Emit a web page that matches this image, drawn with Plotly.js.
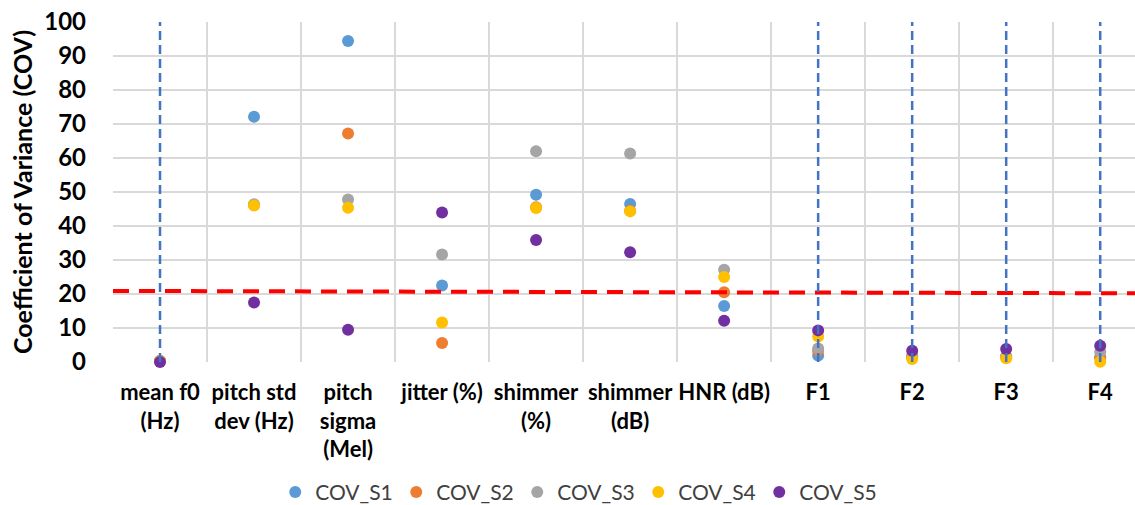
<!DOCTYPE html>
<html>
<head>
<meta charset="utf-8">
<script src="https://cdn.plot.ly/plotly-3.0.1.min.js"></script>
<style>
html,body{margin:0;padding:0;background:#fff;}
#chart{width:1135px;height:505px;}
</style>
</head>
<body>
<div id="chart"></div>
<script>
// Categories (x axis)
const categories = [
  "mean f0<br>(Hz)", "pitch std<br>dev (Hz)", "pitch<br>sigma<br>(Mel)", "jitter (%)",
  "shimmer<br>(%)", "shimmer<br>(dB)", "HNR (dB)", "F1", "F2", "F3", "F4"
];

// Series values
const COV_S1 = [0.3, 72.1, 94.4, 22.5, 49.2, 46.5, 16.5, 1.9, 1.6, 1.5, 1.5];
const COV_S2 = [0.3, 46.2, 67.2, 5.6, 45.5, 44.5, 20.5, 3.3, 1.5, 1.5, 1.2];
const COV_S3 = [0.3, 46.4, 47.8, 31.6, 62.0, 61.3, 27.1, 4.0, 1.8, 1.8, 3.0];
const COV_S4 = [0.2, 46.0, 45.4, 11.6, 45.3, 44.3, 25.0, 7.5, 0.9, 1.1, 0.1];
const COV_S5 = [0.0, 17.5, 9.5, 44.0, 35.9, 32.3, 12.1, 9.3, 3.3, 3.8, 4.8];

const seriesNames = ["COV_S1", "COV_S2", "COV_S3", "COV_S4", "COV_S5"];
const seriesColors = ["#5B9BD5", "#ED7D31", "#A5A5A5", "#FFC000", "#7030A0"];

// Reference (threshold) line values at left and right ends
const refLineY = [20.9, 20.2];
// Categories with vertical blue dashed marker lines
const vlineCats = [0, 7, 8, 9, 10];
const vlineY = [0, 100];

const allSeries = [COV_S1, COV_S2, COV_S3, COV_S4, COV_S5];
const traces = [];

// red dashed trend line (behind markers)
traces.push({
  x: [-0.5, categories.length - 0.5], y: refLineY, xaxis: 'x2', yaxis: 'y',
  mode: 'lines', line: {color: '#FF0000', width: 4, dash: '16px,10px'},
  showlegend: false, hoverinfo: 'skip'
});

function markerTrace(i) {
  return {
    x: categories, y: allSeries[i], name: seriesNames[i], type: 'scatter', mode: 'markers',
    marker: {color: seriesColors[i], size: 12}, cliponaxis: false
  };
}
for (let i = 0; i < 4; i++) traces.push(markerTrace(i));

vlineCats.forEach(c => {
  traces.push({
    x: [c, c], y: vlineY, xaxis: 'x2', yaxis: 'y', mode: 'lines',
    line: {color: '#4472C4', width: 2.5, dash: '9px,5px'},
    showlegend: false, hoverinfo: 'skip'
  });
});
traces.push(markerTrace(4));

const xr = [-0.5, 10.37];
const boldFont = (s) => ({size: s, color: '#000', family: 'Lato, sans-serif', weight: 'bold'});
const layout = {
  width: 1135, height: 505,
  margin: {l: 113, r: 0, t: 22, b: 143, autoexpand: false},
  paper_bgcolor: '#fff', plot_bgcolor: '#fff',
  font: {family: 'Lato, "Open Sans", sans-serif', color: '#000'},
  showlegend: true,
  legend: {
    orientation: 'h', xref: 'container', yref: 'container',
    x: 0.2425, xanchor: 'left', y: 0.025, yanchor: 'middle',
    font: {size: 21, color: '#404040', family: 'Lato, sans-serif'},
    itemwidth: 30, entrywidth: 76, entrywidthmode: 'pixels'
  },
  xaxis: {
    type: 'category', range: xr, tickson: 'boundaries', automargin: false,
    showgrid: true, gridcolor: '#D9D9D9', gridwidth: 1.5,
    zeroline: false, showline: false,
    ticks: '', ticklabelstandoff: 15,
    tickfont: boldFont(22),
    tickangle: 0, fixedrange: true
  },
  xaxis2: {
    overlaying: 'x', range: xr, visible: false, showgrid: false, zeroline: false
  },
  yaxis: {
    range: [0, 100], dtick: 10, tick0: 0, automargin: false,
    showgrid: true, gridcolor: '#D9D9D9', gridwidth: 1.5,
    zeroline: false, showline: false,
    ticks: '', ticklabelstandoff: 26,
    tickfont: boldFont(24),
    title: {text: 'Coefficient of Variance (COV)', standoff: 4, font: boldFont(25)},
    fixedrange: true
  }
};

Plotly.newPlot('chart', traces, layout, {displayModeBar: false, staticPlot: true});
</script>
</body>
</html>
